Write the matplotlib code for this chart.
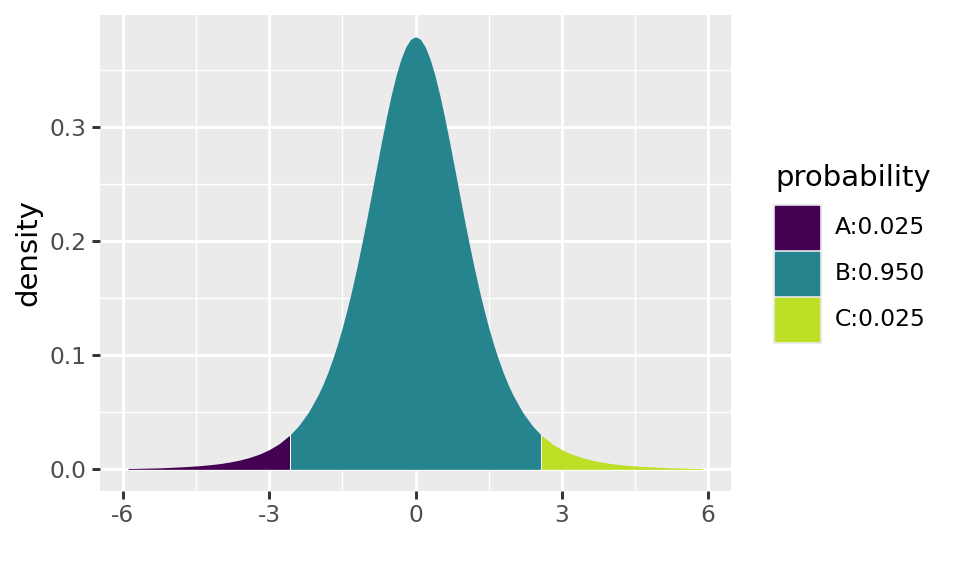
import matplotlib.pyplot as plt
from matplotlib.patches import Rectangle
import numpy as np

# density values (Student t, 5 df shaped)
x_vals = [-5.893, -5.8, -5.6, -5.4, -5.2, -5.0, -4.8, -4.6, -4.4, -4.2, -4.0,
          -3.8, -3.6, -3.4, -3.2, -3.0, -2.8, -2.571, -2.4, -2.2, -2.0,
          -1.9, -1.8, -1.7, -1.6, -1.5, -1.4, -1.3, -1.2, -1.1, -1.0,
          -0.9, -0.8, -0.7, -0.6, -0.5, -0.4, -0.3, -0.2, -0.1, 0.0,
          0.1, 0.2, 0.3, 0.4, 0.5, 0.6, 0.7, 0.8, 0.9, 1.0,
          1.1, 1.2, 1.3, 1.4, 1.5, 1.6, 1.7, 1.8, 1.9, 2.0,
          2.2, 2.4, 2.571, 2.8, 3.0, 3.2, 3.4, 3.6, 3.8, 4.0,
          4.2, 4.4, 4.6, 4.8, 5.0, 5.2, 5.4, 5.6, 5.8, 5.893]
density = [0.0008, 0.0008, 0.0010, 0.0012, 0.0014, 0.0018, 0.0022, 0.0027, 0.0033, 0.0041, 0.0051,
           0.0065, 0.0082, 0.0105, 0.0134, 0.0173, 0.0224, 0.0303, 0.0381, 0.0498, 0.0651,
           0.0743, 0.0848, 0.0966, 0.1098, 0.1245, 0.1407, 0.1585, 0.1777, 0.1981, 0.2197,
           0.2420, 0.2645, 0.2868, 0.3082, 0.3279, 0.3454, 0.3598, 0.3706, 0.3773, 0.3796,
           0.3773, 0.3706, 0.3598, 0.3454, 0.3279, 0.3082, 0.2868, 0.2645, 0.2420, 0.2197,
           0.1981, 0.1777, 0.1585, 0.1407, 0.1245, 0.1098, 0.0966, 0.0848, 0.0743, 0.0651,
           0.0498, 0.0381, 0.0303, 0.0224, 0.0173, 0.0134, 0.0105, 0.0082, 0.0065, 0.0051,
           0.0041, 0.0033, 0.0027, 0.0022, 0.0018, 0.0014, 0.0012, 0.0010, 0.0008, 0.0008]
cutoffs = [-2.571, 2.571]
labels = ["A:0.025", "B:0.950", "C:0.025"]
x_ticks = [-6, -3, 0, 3, 6]
y_ticks = [0.0, 0.1, 0.2, 0.3]

cmap = plt.get_cmap("viridis")
colors = [cmap(0.0), cmap(0.45), cmap(0.9)]

W, H = 960, 576
fig = plt.figure(figsize=(W / 100, H / 100), dpi=100)
ax = fig.add_axes([100 / W, (H - 491) / H, 631 / W, 476 / H])
ax.set_facecolor("#EBEBEB")

x = np.array(x_vals)
d = np.array(density)
bounds = [x.min()] + cutoffs + [x.max()]
for i in range(3):
    m = (x >= bounds[i]) & (x <= bounds[i + 1])
    ax.fill_between(x[m], 0, d[m], color=colors[i], lw=0, zorder=3)
for c in cutoffs:
    ax.plot([c, c], [0, d[x_vals.index(c)]], color="white", lw=0.7, zorder=4)

ax.set_xlim(-6.47, 6.47)
ax.set_ylim(-0.019, 0.3986)
ax.set_xticks(x_ticks)
ax.set_xticklabels([str(t) for t in x_ticks])
ax.set_yticks(y_ticks)
ax.set_yticklabels([f"{t:.1f}" for t in y_ticks])
ax.set_xticks([-4.5, -1.5, 1.5, 4.5], minor=True)
ax.set_yticks([0.05, 0.15, 0.25, 0.35], minor=True)
ax.grid(which="major", color="white", lw=2.1, zorder=1)
ax.grid(which="minor", color="white", lw=1.05, zorder=1)
ax.set_axisbelow(True)
for s in ax.spines.values():
    s.set_visible(False)
ax.tick_params(which="major", length=5.5, width=2.1, color="#333333",
               labelcolor="#4D4D4D", labelsize=16.8, pad=4)
ax.tick_params(which="minor", length=0)
ax.set_ylabel("density", fontsize=21, color="black", labelpad=5)

# legend drawn by hand in pixel coordinates
def fx(px):
    return px / W

def fy(py):
    return (H - py) / H

fig.text(fx(775), fy(178), "probability", fontsize=21, va="center", ha="left")
fig.patches.append(Rectangle((fx(773), fy(343)), 48 / W, 139 / H,
                             transform=fig.transFigure, color="#EBEBEB", zorder=1))
for i, lab in enumerate(labels):
    top = 206 + i * 46
    fig.patches.append(Rectangle((fx(775), fy(top + 43)), 44 / W, 43 / H,
                                 transform=fig.transFigure, color=colors[i], zorder=2))
    fig.text(fx(835), fy(top + 22), lab, fontsize=16.8, va="center", ha="left")

fig.savefig("out.png", dpi=100)
